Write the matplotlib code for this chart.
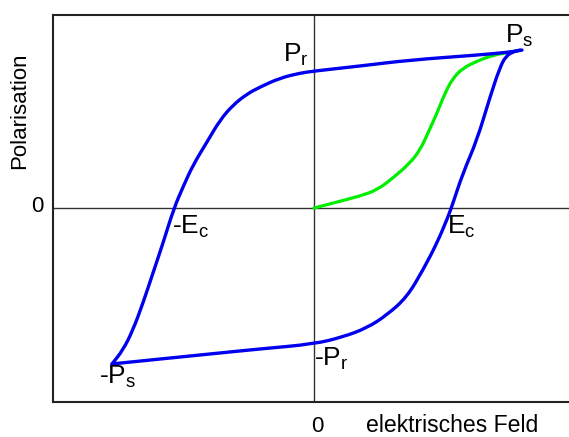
import matplotlib
matplotlib.use("Agg")
import matplotlib.pyplot as plt
from matplotlib.path import Path
from matplotlib.patches import PathPatch

plt.rcParams["font.family"] = ["Liberation Sans", "DejaVu Sans"]
plt.rcParams["mathtext.default"] = "regular"

# hysteresis loop (E: field, P: polarisation, Ps = 1)
upper_E = [2.08, 1.96, 1.63, 0.96, 0.46, 0.00, -0.14, -0.34, -0.54, -0.67, -0.81, -0.94,
           -1.07, -1.21, -1.31, -1.40, -1.51, -1.61, -1.71, -1.81, -1.91, -2.02]
upper_P = [1.000, 0.987, 0.968, 0.937, 0.899, 0.867, 0.854, 0.823, 0.766, 0.722, 0.652, 0.557,
           0.418, 0.272, 0.133, 0.000, -0.222, -0.411, -0.601, -0.772, -0.899, -0.987]

lower_E = [-2.02, -1.54, -1.04, -0.54, 0.00, 0.29, 0.53, 0.73, 0.93, 1.09, 1.23, 1.34,
           1.39, 1.49, 1.63, 1.76, 1.86, 1.92, 1.99, 2.06]
lower_P = [-0.987, -0.956, -0.924, -0.892, -0.861, -0.816, -0.759, -0.677, -0.563, -0.392, -0.222, -0.057,
           0.032, 0.222, 0.430, 0.703, 0.892, 0.962, 0.989, 1.000]

# neukurve (virgin curve)
virgin_E = [0.00, 0.23, 0.46, 0.63, 0.79, 0.96, 1.06, 1.14, 1.23, 1.31, 1.39, 1.49, 1.63, 1.79, 1.96, 2.04]
virgin_P = [0.000, 0.038, 0.076, 0.114, 0.190, 0.285, 0.367, 0.475, 0.601, 0.728, 0.823, 0.886, 0.930, 0.968, 0.987, 0.997]

W, H = 569, 437


def px(x, y):
    return x / W, 1 - y / H


def smooth_line(ax, xs, ys, **kw):
    # quadratic bezier through segment midpoints, read points act as control points
    pts = list(zip(xs, ys))
    verts = [pts[0]]
    codes = [Path.MOVETO]
    for i in range(1, len(pts) - 1):
        mid = ((pts[i][0] + pts[i + 1][0]) / 2, (pts[i][1] + pts[i + 1][1]) / 2)
        if i == 1:
            verts.append(((pts[0][0] + pts[1][0]) / 2, (pts[0][1] + pts[1][1]) / 2)); codes.append(Path.LINETO)
        verts += [pts[i], mid]; codes += [Path.CURVE3, Path.CURVE3]
    verts.append(pts[-1]); codes.append(Path.LINETO)
    ax.add_patch(PathPatch(Path(verts, codes), fill=False, capstyle="round", joinstyle="round", **kw))


fig = plt.figure(figsize=(W / 100, H / 100), dpi=100)
ax = fig.add_axes([53 / W, 35 / H, 522 / W, 387 / H])
ax.set_xlim(-2.61, 2.61)
ax.set_ylim(-1.228, 1.222)
ax.set_xticks([]); ax.set_yticks([])
for s in ax.spines.values():
    s.set_linewidth(1.5); s.set_color("#222222")

ax.axhline(0, color="#333333", lw=1.0, zorder=1)
ax.axvline(0, color="#333333", lw=1.0, zorder=1)

smooth_line(ax, virgin_E, virgin_P, edgecolor="#00ee00", lw=2.3, zorder=2)
smooth_line(ax, upper_E, upper_P, edgecolor="#0000ee", lw=2.4, zorder=3)
smooth_line(ax, lower_E, lower_P, edgecolor="#0000ee", lw=2.4, zorder=3)

lbl = dict(fontsize=19, ha="left", va="baseline")
fig.text(*px(283, 62), "P$_r$", **lbl)
fig.text(*px(505, 43), "P$_s$", **lbl)
fig.text(*px(172, 234), "-E$_c$", **lbl)
fig.text(*px(447, 234), "E$_c$", **lbl)
fig.text(*px(314, 366), "-P$_r$", **lbl)
fig.text(*px(99, 384), "-P$_s$", **lbl)

fig.text(*px(20, 111), "Polarisation", fontsize=16, rotation=90, ha="center", va="center")
fig.text(*px(37, 207), "0", fontsize=16, ha="center", va="center")
fig.text(*px(317, 436.5), "0", fontsize=16, ha="center", va="bottom")
fig.text(*px(366, 436.5), "elektrisches Feld", fontsize=16.6, ha="left", va="bottom")

fig.savefig("out.png", dpi=100)
